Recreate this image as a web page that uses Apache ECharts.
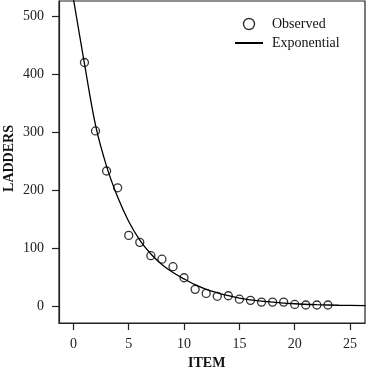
<!DOCTYPE html>
<html>
<head>
<meta charset="utf-8">
<script src="https://cdn.jsdelivr.net/npm/echarts@6/dist/echarts.min.js"></script>
<style>
  html, body { margin: 0; padding: 0; background: #fff; }
  #chart { width: 370px; height: 370px; }
</style>
</head>
<body>
<div id="chart"></div>
<script>
// observed points
const items = [1, 2, 3, 4, 5, 6, 7, 8, 9, 10, 11, 12, 13, 14, 15, 16, 17, 18, 19, 20, 21, 22, 23];
const ladders = [420, 302, 233, 204, 122, 110, 87, 81, 68, 49, 29, 22, 17, 18, 12, 10, 7, 7, 7, 3, 2, 2, 2];
// fitted exponential curve
const fitX = [0, 1, 2, 3, 4, 5, 6, 7, 8, 9, 10, 11, 12, 13, 14, 15, 16, 18, 20, 22, 24, 26.4];
const fitY = [530, 418, 312, 241, 188, 146, 114, 90, 72, 58, 47, 37, 29, 23, 18, 14, 11, 7, 4.2, 2.6, 1.6, 1];
const xTicks = [0, 5, 10, 15, 20, 25];
const yTicks = [0, 100, 200, 300, 400, 500];

const font = 'Liberation Serif';
const chart = echarts.init(document.getElementById('chart'));

const tickStyle = { color: '#222', width: 1.2 };
// hidden 0..1 axes, only used so the visible axes sit on the frame edge
const helper = { type: 'value', min: 0, max: 1, show: false };

const option = {
  backgroundColor: '#fff',
  animation: false,
  grid: {
    left: 59, right: 5, top: 1, bottom: 47,
    outerBoundsMode: 'none',
    show: true, borderColor: '#222', borderWidth: 1.2
  },
  legend: {
    orient: 'vertical',
    left: 229, top: 12,
    itemWidth: 28, itemHeight: 11, itemGap: 5,
    textStyle: { fontFamily: font, fontSize: 14, color: '#111', padding: [0, 0, 0, 4] },
    data: [
      { name: 'Observed', icon: 'circle', itemStyle: { color: 'transparent', borderColor: '#000', borderWidth: 1.4 } },
      { name: 'Exponential', itemStyle: { opacity: 0 } }
    ]
  },
  xAxis: [
    {
      type: 'value',
      min: -1.3, max: 26.35,
      name: 'ITEM\u00a0\u00a0\u00a0', nameLocation: 'middle', nameGap: 33, nameMoveOverlap: false,
      nameTextStyle: { fontFamily: font, fontWeight: 'bold', fontSize: 14, color: '#111' },
      axisLine: { show: true, onZero: true, onZeroAxisIndex: 1, lineStyle: tickStyle },
      axisTick: { show: true, length: 7, customValues: xTicks, lineStyle: tickStyle },
      axisLabel: { customValues: xTicks, margin: 14, fontFamily: font, fontSize: 14, color: '#222' },
      splitLine: { show: false }
    },
    helper
  ],
  yAxis: [
    {
      type: 'value',
      min: -29, max: 526,
      name: '\u00a0\u00a0LADDERS', nameLocation: 'middle', nameGap: 43, nameMoveOverlap: false,
      nameTextStyle: { fontFamily: font, fontWeight: 'bold', fontSize: 14, color: '#111' },
      axisLine: { show: true, onZero: true, onZeroAxisIndex: 1, lineStyle: tickStyle },
      axisTick: { show: true, length: 7, customValues: yTicks, lineStyle: tickStyle },
      axisLabel: { customValues: yTicks, margin: 15, fontFamily: font, fontSize: 14, color: '#222' },
      splitLine: { show: false }
    },
    helper
  ],
  series: [
    {
      name: 'Exponential',
      type: 'line',
      data: fitX.map((x, i) => [x, fitY[i]]),
      smooth: 0.35,
      symbol: 'none',
      clip: true,
      lineStyle: { color: '#000', width: 1.3 },
      itemStyle: { color: '#000' },
      z: 2
    },
    {
      name: 'Observed',
      type: 'scatter',
      data: items.map((x, i) => [x, ladders[i]]),
      symbol: 'circle',
      symbolSize: 8,
      itemStyle: { color: 'transparent', borderColor: '#000', borderWidth: 1.3 },
      z: 3
    }
  ]
};
chart.setOption(option);
</script>
</body>
</html>
